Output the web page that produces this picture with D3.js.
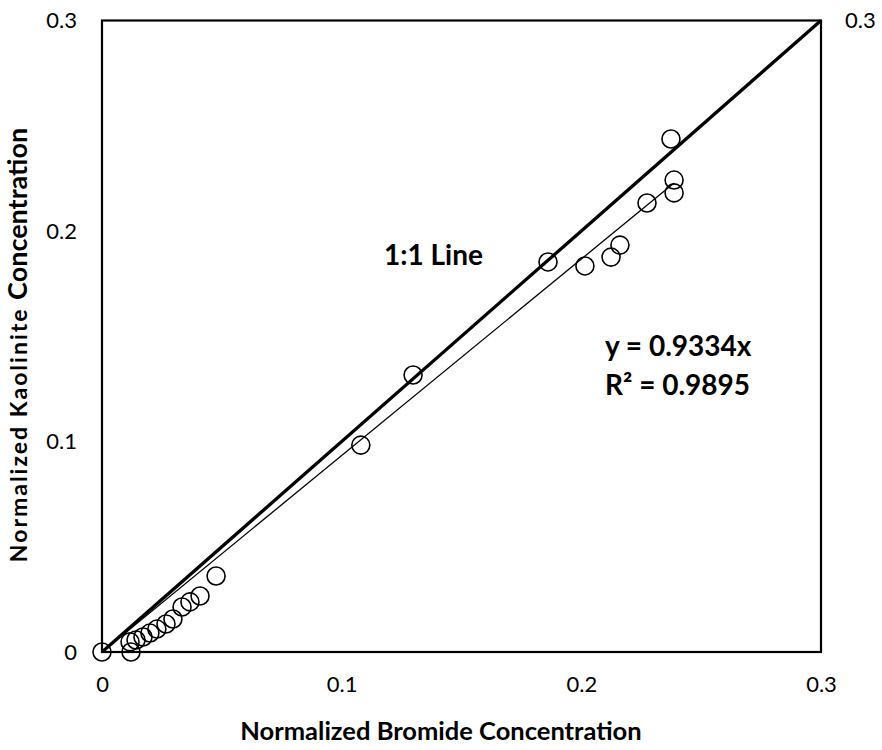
<!DOCTYPE html>
<html>
<head>
<meta charset="utf-8">
<script src="https://cdn.jsdelivr.net/npm/d3@7"></script>
<style>
  html, body { margin: 0; padding: 0; background: #fff; }
  svg text { font-family: Lato, "Open Sans", sans-serif; fill: #000; }
</style>
</head>
<body>
<svg id="chart" width="882" height="750"></svg>
<script>
// Observed normalized concentrations (bromide tracer vs. kaolinite)
const bromide = [0, 0.0121, 0.0117, 0.0142, 0.0171, 0.0200, 0.0229, 0.0267, 0.0296, 0.0334, 0.0367, 0.0409, 0.0476,
                 0.1080, 0.1298, 0.1861, 0.2015, 0.2124, 0.2161, 0.2274, 0.2387, 0.2387, 0.2374];
const kaolinite = [0, 0.0000, 0.0048, 0.0057, 0.0071, 0.0090, 0.0109, 0.0133, 0.0157, 0.0214, 0.0238, 0.0266, 0.0361,
                   0.0983, 0.1316, 0.1853, 0.1834, 0.1876, 0.1933, 0.2133, 0.2181, 0.2242, 0.2437];

// Linear fit through the origin and 1:1 reference
const slope = 0.9334;
const rSquared = 0.9895;
const oneToOne = [0, 0.3];

// Axis ticks
const xTicks = [0, 0.1, 0.2, 0.3];
const yTicks = [0, 0.1, 0.2, 0.3];
const xTickLabels = ["0", "0.1", "0.2", "0.3"];
const yTickLabels = ["0", "0.1", "0.2", "0.3"];

const margin = { left: 102, right: 61, top: 20.5, bottom: 98 };
const W = 882, H = 750;
const svg = d3.select("#chart");

const x = d3.scaleLinear().domain([0, 0.3]).range([margin.left, W - margin.right]);
const y = d3.scaleLinear().domain([0, 0.3]).range([H - margin.bottom, margin.top]);

// Plot frame
svg.append("rect")
  .attr("x", x(0)).attr("y", y(0.3))
  .attr("width", x(0.3) - x(0)).attr("height", y(0) - y(0.3))
  .attr("fill", "none").attr("stroke", "#000").attr("stroke-width", 2.2);

// Axes (labels only, no tick marks)
const xAxis = d3.axisBottom(x).tickValues(xTicks)
  .tickFormat((d, i) => xTickLabels[i]).tickSize(0).tickPadding(24);
const gx = svg.append("g").attr("transform", `translate(0,${y(0)})`).call(xAxis);
gx.select(".domain").remove();
gx.selectAll("text").attr("font-size", 22).attr("font-family", "Lato, sans-serif");

const yAxis = d3.axisLeft(y).tickValues(yTicks)
  .tickFormat((d, i) => yTickLabels[i]).tickSize(0).tickPadding(25);
const gy = svg.append("g").attr("transform", `translate(${x(0)},0)`).call(yAxis);
gy.select(".domain").remove();
gy.selectAll("text").attr("font-size", 22).attr("font-family", "Lato, sans-serif");

// Secondary axis top label
svg.append("text")
  .attr("x", x(0.3) + 24).attr("y", y(0.3)).attr("dy", "0.32em")
  .attr("font-size", 22).text("0.3");

// 1:1 line
svg.append("line")
  .attr("x1", x(oneToOne[0])).attr("y1", y(oneToOne[0]))
  .attr("x2", x(oneToOne[1])).attr("y2", y(oneToOne[1]))
  .attr("stroke", "#000").attr("stroke-width", 3.3);

// Trendline over the data range
const xMax = d3.max(bromide);
svg.append("line")
  .attr("x1", x(0)).attr("y1", y(0))
  .attr("x2", x(xMax)).attr("y2", y(slope * xMax))
  .attr("stroke", "#000").attr("stroke-width", 1.3);

// Data markers
const pts = bromide.map((b, i) => ({ b, k: kaolinite[i] }));
svg.append("g").selectAll("circle").data(pts).join("circle")
  .attr("cx", d => x(d.b)).attr("cy", d => y(d.k)).attr("r", 9)
  .attr("fill", "none").attr("stroke", "#000").attr("stroke-width", 1.6);

// Annotations
svg.append("text").attr("x", 384).attr("y", 265)
  .attr("font-size", 28).attr("font-weight", "bold").text("1:1 Line");

svg.append("text").attr("x", 605).attr("y", 356)
  .attr("font-size", 28).attr("font-weight", "bold").text(`y = ${slope}x`);
svg.append("text").attr("x", 605).attr("y", 395)
  .attr("font-size", 28).attr("font-weight", "bold").text(`R² = ${rSquared}`);

// Axis titles
svg.append("text")
  .attr("x", 441).attr("y", 740)
  .attr("text-anchor", "middle").attr("font-size", 25.5).attr("font-weight", "bold")
  .text("Normalized Bromide Concentration");

const yt = svg.append("text")
  .attr("transform", `translate(27,${345}) rotate(-90)`)
  .attr("text-anchor", "middle").attr("font-weight", "bold");
yt.append("tspan").attr("font-size", 23).attr("letter-spacing", 2).text("Normalized Kaolinite ");
yt.append("tspan").attr("font-size", 27).attr("letter-spacing", 0).text("Concentration");
</script>
</body>
</html>
